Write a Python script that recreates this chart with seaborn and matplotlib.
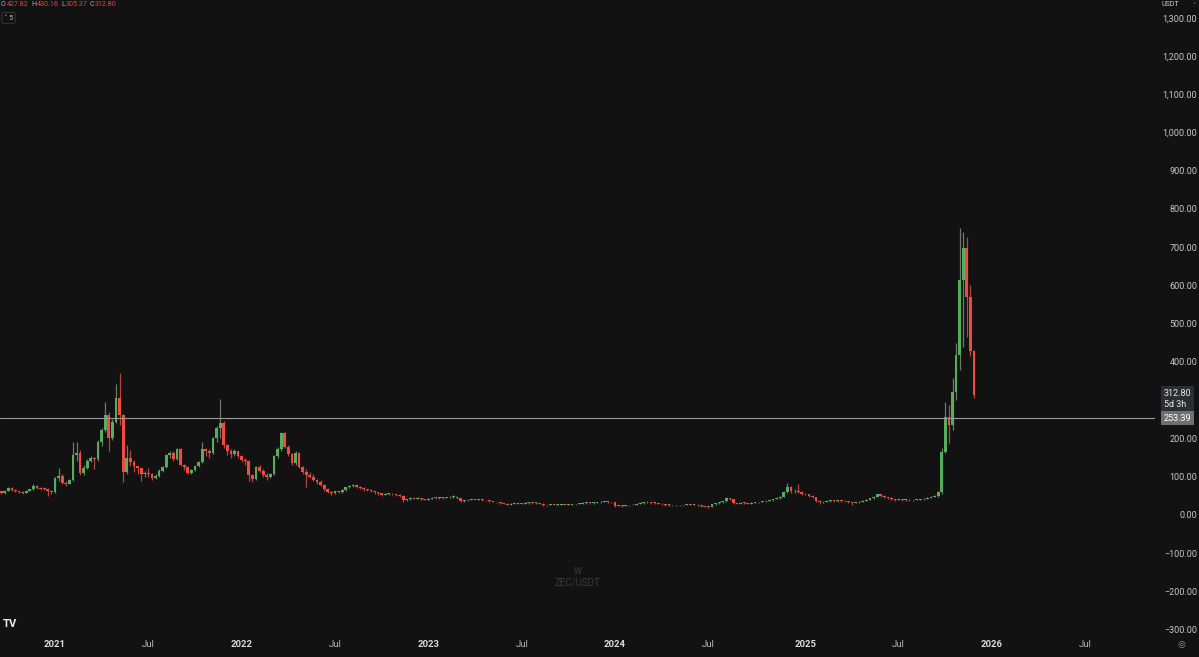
import numpy as np
import pandas as pd
import matplotlib
matplotlib.use("Agg")
import matplotlib.pyplot as plt
import matplotlib.dates as mdates
import seaborn as sns

# weekly ZEC/USDT candles (week opens monday)
first_week = "2020-09-21"
first_open = 62.0
closes = [
    57, 63, 71, 66, 62, 61, 58, 63, 67, 76,
    70, 69, 68, 62, 60, 96, 102, 84, 82, 92,
    157, 162, 110, 124, 140, 148, 146, 190, 222, 261,
    201, 244, 305, 261, 113, 148, 138, 127, 122, 108,
    110, 106, 97, 103, 116, 126, 157, 163, 147, 172,
    131, 125, 110, 118, 128, 139, 172, 166, 163, 200,
    228, 241, 183, 168, 160, 166, 154, 144, 140, 104,
    94, 125, 116, 105, 100, 107, 154, 172, 214, 179,
    160, 135, 163, 126, 113, 105, 100, 92, 87, 78,
    67, 61, 57, 62, 60, 66, 72, 76, 79, 73,
    70, 67, 66, 62, 60, 57, 53, 55, 56, 54,
    53, 50, 38, 41, 44, 43, 44, 42, 40, 43,
    45, 44, 46, 45, 46, 47, 48, 44, 36, 38,
    40, 41, 40, 41, 39, 38, 36, 34, 33, 31,
    30, 27, 29, 30, 31, 30, 31, 32, 31, 31,
    30, 25, 26, 27, 26, 27, 28, 27, 27, 28,
    29, 30, 31, 32, 31, 32, 33, 34, 35, 34,
    33, 24, 25, 24, 26, 25, 27, 30, 31, 33,
    34, 32, 31, 30, 28, 26, 26, 25, 26, 25,
    26, 27, 26, 27, 25, 23, 22, 21, 28, 31,
    33, 36, 44, 42, 31, 30, 32, 31, 30, 32,
    33, 34, 36, 37, 38, 42, 44, 48, 60, 74,
    62, 64, 60, 56, 54, 50, 46, 36, 33, 35,
    37, 38, 36, 38, 37, 36, 34, 32, 33, 35,
    37, 40, 44, 48, 54, 50, 47, 45, 42, 40,
    41, 39, 40, 38, 39, 40, 41, 43, 45, 47,
    50, 60, 165, 256, 235, 322, 418, 614, 698, 570,
    427.82, 312.80,
]
highs = [
    64, 65, 74, 74, 67, 64, 63, 65, 69, 82,
    78, 74, 73, 70, 66, 100, 122, 106, 90, 95,
    192, 190, 170, 130, 146, 155, 152, 196, 228, 296,
    268, 250, 343, 371, 265, 183, 170, 145, 128, 124,
    116, 122, 110, 106, 119, 128, 160, 168, 166, 176,
    176, 134, 128, 121, 131, 142, 192, 176, 172, 203,
    232, 303, 247, 186, 172, 172, 168, 156, 148, 144,
    108, 128, 130, 120, 110, 110, 158, 178, 218, 216,
    183, 163, 166, 165, 128, 120, 112, 106, 95, 92,
    81, 70, 63, 64, 64, 68, 74, 78, 82, 80,
    75, 72, 69, 67, 63, 61, 58, 57, 58, 57,
    56, 55, 51, 43, 46, 46, 46, 45, 43, 44,
    46, 47, 47, 47, 48, 49, 51, 49, 45, 40,
    41, 43, 42, 43, 42, 40, 39, 37, 35, 34,
    32, 31, 31, 32, 33, 32, 33, 34, 33, 33,
    32, 31, 27, 28, 28, 28, 29, 29, 28, 29,
    30, 31, 33, 33, 33, 33, 35, 36, 37, 36,
    35, 34, 27, 26, 27, 27, 28, 31, 33, 35,
    36, 35, 33, 32, 31, 29, 28, 27, 27, 27,
    27, 28, 28, 28, 28, 26, 24, 23, 29, 32,
    34, 37, 46, 45, 43, 32, 33, 33, 32, 33,
    34, 35, 37, 39, 40, 43, 46, 50, 62, 84,
    76, 68, 82, 62, 58, 56, 52, 48, 38, 37,
    39, 40, 39, 40, 39, 38, 37, 35, 34, 36,
    38, 41, 45, 50, 56, 56, 51, 48, 46, 43,
    43, 42, 41, 41, 40, 42, 43, 45, 46, 49,
    51, 62, 175, 295, 288, 358, 450, 750, 740, 727,
    600, 430.16,
]
lows = [
    55, 56, 62, 64, 60, 58, 55, 57, 62, 66,
    68, 66, 65, 50, 56, 58, 90, 80, 76, 80,
    90, 140, 105, 105, 120, 138, 120, 140, 180, 218,
    166, 195, 240, 235, 87, 108, 128, 112, 108, 88,
    100, 100, 92, 94, 100, 113, 122, 150, 140, 144,
    128, 118, 106, 108, 115, 125, 135, 155, 150, 160,
    190, 200, 175, 158, 150, 155, 150, 138, 130, 88,
    85, 92, 112, 100, 92, 97, 104, 150, 168, 175,
    155, 130, 132, 122, 108, 72, 96, 88, 82, 75,
    64, 57, 52, 55, 57, 58, 64, 70, 74, 71,
    68, 64, 63, 60, 56, 52, 50, 51, 53, 52,
    50, 48, 33, 37, 40, 41, 41, 40, 38, 39,
    42, 42, 43, 43, 44, 45, 45, 42, 33, 35,
    37, 38, 38, 39, 37, 36, 34, 33, 31, 29,
    28, 25, 26, 28, 29, 29, 30, 30, 29, 30,
    29, 23, 24, 25, 25, 25, 26, 26, 25, 26,
    27, 28, 29, 30, 30, 30, 31, 32, 33, 32,
    31, 22, 23, 22, 24, 24, 25, 27, 29, 30,
    32, 30, 29, 28, 26, 24, 24, 24, 24, 23,
    24, 25, 25, 25, 24, 22, 20, 19, 21, 27,
    30, 32, 35, 40, 29, 28, 29, 29, 29, 29,
    31, 32, 33, 35, 36, 37, 41, 43, 47, 58,
    57, 58, 57, 53, 51, 47, 44, 34, 29, 31,
    34, 35, 34, 35, 35, 33, 32, 27, 31, 32,
    34, 36, 39, 42, 46, 47, 44, 42, 39, 37,
    38, 37, 37, 36, 36, 38, 39, 40, 42, 44,
    46, 48, 56, 162, 188, 222, 300, 380, 440, 465,
    415, 305.37,
]
last_price = 312.80
prev_line = 253.39

price_ticks = list(range(-300, 1301, 100))
time_ticks = ["2021-01-04", "2021-07-05", "2022-01-03", "2022-07-04", "2023-01-02", "2023-07-03",
              "2024-01-01", "2024-07-01", "2025-01-06", "2025-07-07", "2026-01-05", "2026-07-06"]
time_labels = ["2021", "Jul", "2022", "Jul", "2023", "Jul", "2024", "Jul", "2025", "Jul", "2026", "Jul"]

BG = "#121212"
UP, DOWN = "#56ad5b", "#ef4b40"
UP_WICK, DOWN_WICK = "#6c786c", "#b8453d"

df = pd.DataFrame({"close": closes, "high": highs, "low": lows})
df["open"] = [first_open] + closes[:-1]
df["date"] = pd.date_range(first_week, periods=len(df), freq="W-MON")
df["t"] = mdates.date2num(df["date"])
df["up"] = df["close"] >= df["open"]

sns.set_theme(style="dark", rc={"axes.facecolor": BG, "figure.facecolor": BG,
                                "axes.edgecolor": BG, "axes.grid": False})
plt.rcParams["font.family"] = ["Roboto", "DejaVu Sans"]

fig = plt.figure(figsize=(11.99, 6.57), dpi=100)
ax = fig.add_axes([0, 25 / 657, 1155 / 1199, 632 / 657])

body_h = np.maximum((df["close"] - df["open"]).abs(), 1.8)
body_b = np.minimum(df["close"], df["open"])
ax.vlines(df["t"], df["low"], df["high"], colors=np.where(df["up"], UP_WICK, DOWN_WICK),
          linewidth=0.9, zorder=2)
ax.bar(df["t"], body_h, bottom=body_b, width=5.4, color=np.where(df["up"], UP, DOWN),
       linewidth=0, zorder=3)

ax.axhline(prev_line, color="#9a9a9a", linewidth=0.8, zorder=4)

t0 = mdates.date2num(pd.Timestamp("2021-01-04"))
ax.set_xlim(t0 - 107.2, t0 + 2144.8)
ax.set_ylim(-305.9, 1346.4)

# price scale on the right (the 300 label sits under the last-price tag)
ax.yaxis.tick_right()
ax.set_yticks(price_ticks)
ax.set_yticklabels(["" if v == 300 else f"{v:,.2f}".replace("-", "\u2212") for v in price_ticks])
ax.tick_params(axis="y", length=0, pad=30.5, labelsize=6.5, labelcolor="#c8c8c8")
for lab in ax.get_yticklabels():
    lab.set_horizontalalignment("right")

# time scale
ax.set_xticks(mdates.date2num(pd.to_datetime(time_ticks)))
ax.set_xticklabels(time_labels)
ax.tick_params(axis="x", length=0, pad=6, labelsize=6.8, labelcolor="#b8b8b8")
for lab in ax.get_xticklabels():
    if lab.get_text() != "Jul":
        lab.set_fontweight("bold")
        lab.set_color("#dcdcdc")
ax.set_xlabel("")
ax.set_ylabel("")
for s in ax.spines.values():
    s.set_visible(False)

# price tags on the scale
ax.text(1.0075, last_price + 17, f"{last_price:.2f}\n5d 3h", transform=ax.get_yaxis_transform(),
        ha="left", va="top", fontsize=6.5, color="#e8e8e8", linespacing=1.25, zorder=6,
        bbox=dict(boxstyle="square,pad=0.35", fc="#2b2d31", ec="none"), clip_on=False)
ax.text(1.0075, prev_line, f"{prev_line:.2f}", transform=ax.get_yaxis_transform(),
        ha="left", va="center", fontsize=6.5, color="#ffffff", zorder=6,
        bbox=dict(boxstyle="square,pad=0.3", fc="#707070", ec="none"), clip_on=False)

# legend line top-left
W, H = 1199, 657
ohlc = [("O", 1), ("427.82", 6.5), ("H", 31), ("430.16", 37), ("L", 61), ("305.37", 65.5),
        ("C", 89.5), ("312.80", 95)]
for txt, px in ohlc:
    fig.text(px / W, 1 - 5 / H, txt, fontsize=5.1, va="center", ha="left",
             color="#b0b0b0" if len(txt) == 1 else "#e0463c")
fig.text(4 / W, 1 - 18 / H, "\u02c5 5", fontsize=5, va="center", ha="left", color="#c0c0c0",
         bbox=dict(boxstyle="round,pad=0.3", fc=BG, ec="#3a3a3a", lw=0.6))
fig.text(1162 / W, 1 - 5 / H, "USDT", fontsize=5, va="center", ha="left", color="#d0d0d0")
fig.text(1194 / W, 1 - 5 / H, "\u02c5", fontsize=4.5, va="center", ha="center", color="#9a9a9a")

# watermark and bottom marks
fig.text(578 / W, 1 - 572 / H, "W", fontsize=6.5, ha="center", va="center", color="#3c3c3c")
fig.text(578 / W, 1 - 582 / H, "ZEC/USDT", fontsize=7, ha="center", va="center", color="#3c3c3c")
fig.text(3 / W, 1 - 624 / H, "TV", fontsize=8, fontweight="bold", ha="left", va="center",
         color="#f0f0f0")
fig.text(1181 / W, 1 - 644 / H, "\u25ce", fontsize=6.5, ha="center", va="center", color="#9a9a9a",
         family="DejaVu Sans")

fig.savefig("out.png", dpi=100, facecolor=BG)
